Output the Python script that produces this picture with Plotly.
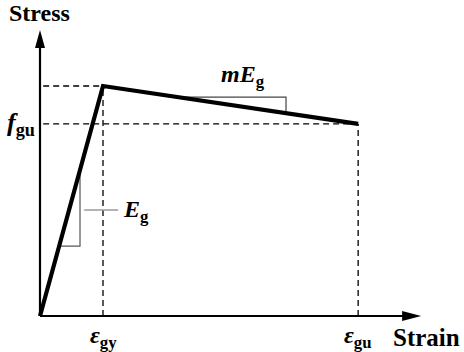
import plotly.graph_objects as go

# ---- data (normalised units: strain / eps_gy, stress / peak stress) ----
strain_pts = [0.0, 1.0, 5.05]      # 0, eps_gy, eps_gu
stress_pts = [0.0, 1.0, 0.835]     # 0, peak, f_gu
x_labels = ["<b><i>ε</i></b><sub><b>gy</b></sub>", "<b><i>ε</i></b><sub><b>gu</b></sub>"]
y_label = "<b><i>f</i></b><sub><b>gu</b></sub>"
axis_titles = ["<b>Strain</b>", "<b>Stress</b>"]
slope_labels = ["<b><i>E</i></b><sub><b>g</b></sub>", "<b><i>mE</i></b><sub><b>g</b></sub>"]

x_tip, y_tip = 6.05, 1.243
x_min, x_max = -40/63, 424/63
y_min, y_max = -36/230, 316/230

FONT = "'Times New Roman', 'Liberation Serif', 'DejaVu Serif', serif"
eps_gy, eps_gu = strain_pts[1], strain_pts[2]
f_peak, f_gu = stress_pts[1], stress_pts[2]

fig = go.Figure()

def line(xs, ys, color="black", width=1.3, dash=None):
    fig.add_trace(go.Scatter(x=xs, y=ys, mode="lines", hoverinfo="skip",
                             line=dict(color=color, width=width, dash=dash)))

# dashed reference lines
dash = "6px,4px"
line([0.05, eps_gy], [f_peak, f_peak], width=1.3, dash=dash)
line([0.05, eps_gu], [f_gu, f_gu], width=1.3, dash=dash)
line([eps_gy, eps_gy], [0, f_peak], width=1.3, dash=dash)
line([eps_gu, eps_gu], [0, f_gu], width=1.3, dash=dash)

# slope triangles
tri_lo, tri_hi = 0.304, 0.635
line([tri_lo, tri_hi, tri_hi], [tri_lo, tri_lo, tri_hi], color="#555555", width=1.2)
slope2 = (f_gu - f_peak) / (eps_gu - eps_gy)
h2 = 0.952
xs2 = eps_gy + (h2 - f_peak) / slope2
xv2 = 3.905
line([xs2, xv2, xv2], [h2, h2, f_peak + slope2 * (xv2 - eps_gy)], color="#444444", width=1.2)
# E_g leader
line([0.70, 1.24], [0.461, 0.461], color="#9a9a9a", width=1.6)

# axes
line([0, x_tip - 0.1], [0, 0], width=2.2)
line([0, 0], [0, y_tip - 0.03], width=2.2)

# main bilinear curve
fig.add_trace(go.Scatter(x=strain_pts, y=stress_pts, mode="lines", hoverinfo="skip",
                         line=dict(color="black", width=4.2)))

# arrowheads
fig.add_shape(type="path", xref="x", yref="y", xsizemode="pixel", ysizemode="pixel",
              xanchor=x_tip, yanchor=0, path="M0,0 L-19,5 L-19,-5 Z",
              fillcolor="black", line=dict(width=0))
fig.add_shape(type="path", xref="x", yref="y", xsizemode="pixel", ysizemode="pixel",
              xanchor=0, yanchor=y_tip, path="M0,0 L-5,-18 L5,-18 Z",
              fillcolor="black", line=dict(width=0))

def label(x, y, text, size, xanchor="center"):
    fig.add_annotation(x=x, y=y, xref="x", yref="y", text=text, showarrow=False,
                       xanchor=xanchor, yanchor="middle",
                       font=dict(family=FONT, size=size, color="black"))

label(-0.015, 1.318, axis_titles[1], 24)
label(6.14, -0.093, axis_titles[0], 25)
label(-0.30, f_gu, y_label, 26)
label(eps_gy, -0.09, x_labels[0], 24)
label(eps_gu, -0.09, x_labels[1], 24)
label(1.29, 0.455, slope_labels[0], 24, xanchor="left")
label(3.22, 1.045, slope_labels[1], 24)

fig.update_layout(
    width=464, height=352, autosize=False,
    margin=dict(l=0, r=0, t=0, b=0),
    paper_bgcolor="white", plot_bgcolor="white",
    showlegend=False,
    font=dict(family=FONT),
    xaxis=dict(range=[x_min, x_max], visible=False, fixedrange=True),
    yaxis=dict(range=[y_min, y_max], visible=False, fixedrange=True),
)

fig.write_html("out.html", config={"displayModeBar": False})

# remove the browser's default page margin so the figure fills the window
with open("out.html", encoding="utf-8") as fh:
    html = fh.read()
html = html.replace("<body>", '<body style="margin:0;padding:0;overflow:hidden">', 1)
with open("out.html", "w", encoding="utf-8") as fh:
    fh.write(html)
